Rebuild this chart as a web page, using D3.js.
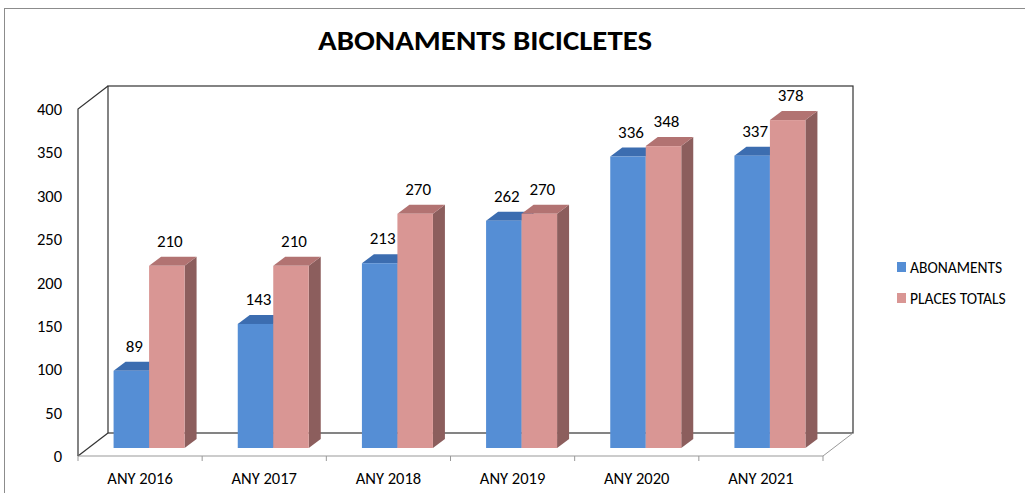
<!DOCTYPE html>
<html>
<head>
<meta charset="utf-8">
<script src="https://cdn.jsdelivr.net/npm/d3@7"></script>
<style>
  body { margin: 0; background: #fff; }
  svg { display: block; }
</style>
</head>
<body>
<svg width="1025" height="493"></svg>
<script>
var svg = d3.select("svg");

// data
var years = ["ANY 2016", "ANY 2017", "ANY 2018", "ANY 2019", "ANY 2020", "ANY 2021"];
var abonaments = [89, 143, 213, 262, 336, 337];
var places = [210, 210, 270, 270, 348, 378];
var seriesNames = ["ABONAMENTS", "PLACES TOTALS"];
var yTicks = [0, 50, 100, 150, 200, 250, 300, 350, 400];

// colours: front, top, side
var blue = { front: "#558ed5", top: "#3c6db0", side: "#2f5a94" };
var pink = { front: "#d99694", top: "#b27372", side: "#8c5e5d" };
var font = "Carlito, Lato, sans-serif";

// 3d depth of the walls
var wallDx = 30, wallDy = -23;
// bars sit a bit into the box
var barDx = 9, barDy = -8;
var depthDx = 12, depthDy = -9;

var x = d3.scaleBand().domain(years).range([78, 823]);
var y = d3.scaleLinear().domain([0, 400]).range([456, 109]);
var sub = d3.scaleBand().domain([0, 1]).range([-35.5, 35.5]);

// outer frame
svg.append("rect")
    .attr("x", 4.5).attr("y", 8.5)
    .attr("width", 1030).attr("height", 500)
    .attr("fill", "none").attr("stroke", "#8c8c8c");

// title
svg.append("text")
    .attr("x", 485).attr("y", 50)
    .attr("text-anchor", "middle")
    .attr("font-family", font)
    .attr("font-weight", "bold")
    .attr("font-size", 28)
    .attr("textLength", 334)
    .attr("lengthAdjust", "spacingAndGlyphs")
    .text("ABONAMENTS BICICLETES");

var x0 = x.range()[0], x1 = x.range()[1];
var yTop = y(400), yBot = y(0);
var box = svg.append("g")
    .attr("fill", "none")
    .attr("stroke", "#333")
    .attr("stroke-width", 1.2);

// back wall
box.append("rect")
    .attr("x", x0 + wallDx).attr("y", yTop + wallDy)
    .attr("width", x1 - x0).attr("height", yBot - yTop);
// left wall
box.append("path")
    .attr("d", "M" + x0 + "," + yBot + "L" + x0 + "," + yTop + "L" + (x0 + wallDx) + "," + (yTop + wallDy));
box.append("path")
    .attr("d", "M" + x0 + "," + yBot + "L" + (x0 + wallDx) + "," + (yBot + wallDy));
// floor
var floor = svg.append("g").attr("fill", "none").attr("stroke", "#999");
floor.append("path")
    .attr("d", "M" + x0 + "," + yBot + "L" + x1 + "," + yBot + "L" + (x1 + wallDx) + "," + (yBot + wallDy));

// ticks under floor
floor.selectAll("line.tick")
    .data(years.concat(["end"]))
    .enter().append("line")
    .attr("x1", function (d, i) { return x0 + i * x.bandwidth(); })
    .attr("x2", function (d, i) { return x0 + i * x.bandwidth(); })
    .attr("y1", yBot).attr("y2", yBot + 5);

// y labels
svg.selectAll("text.ylab")
    .data(yTicks)
    .enter().append("text")
    .attr("class", "ylab")
    .attr("x", 62)
    .attr("y", function (d) { return y(d) + 6; })
    .attr("text-anchor", "end")
    .attr("font-family", font)
    .attr("font-size", 16.5)
    .text(function (d) { return d; });

// x labels
svg.selectAll("text.xlab")
    .data(years)
    .enter().append("text")
    .attr("class", "xlab")
    .attr("x", function (d) { return x(d) + x.bandwidth() / 2; })
    .attr("y", 484)
    .attr("text-anchor", "middle")
    .attr("font-family", font)
    .attr("font-size", 16.5)
    .text(function (d) { return d; });

// bars
var bars = [];
years.forEach(function (yr, i) {
    bars.push({ year: yr, s: 0, v: abonaments[i], c: blue });
    bars.push({ year: yr, s: 1, v: places[i], c: pink });
});

var g = svg.selectAll("g.bar")
    .data(bars)
    .enter().append("g")
    .attr("class", "bar");

function barLeft(d) { return x(d.year) + x.bandwidth() / 2 + sub(d.s) + barDx; }
function barRight(d) { return barLeft(d) + sub.bandwidth(); }
function barTop(d) { return y(d.v) + barDy; }
function barBot(d) { return y(0) + barDy; }

g.append("path")
    .attr("fill", function (d) { return d.c.side; })
    .attr("d", function (d) {
        return "M" + barRight(d) + "," + barBot(d) + "L" + barRight(d) + "," + barTop(d) +
            "L" + (barRight(d) + depthDx) + "," + (barTop(d) + depthDy) +
            "L" + (barRight(d) + depthDx) + "," + (barBot(d) + depthDy) + "Z";
    });
g.append("path")
    .attr("fill", function (d) { return d.c.top; })
    .attr("d", function (d) {
        return "M" + barLeft(d) + "," + barTop(d) + "L" + barRight(d) + "," + barTop(d) +
            "L" + (barRight(d) + depthDx) + "," + (barTop(d) + depthDy) +
            "L" + (barLeft(d) + depthDx) + "," + (barTop(d) + depthDy) + "Z";
    });
g.append("rect")
    .attr("fill", function (d) { return d.c.front; })
    .attr("x", barLeft)
    .attr("y", barTop)
    .attr("width", sub.bandwidth())
    .attr("height", function (d) { return barBot(d) - barTop(d); });

// value labels
g.append("text")
    .attr("x", function (d) { return barLeft(d) + sub.bandwidth() / 2 + 3; })
    .attr("y", function (d) { return barTop(d) - 19; })
    .attr("text-anchor", "middle")
    .attr("font-family", font)
    .attr("font-size", 17)
    .text(function (d) { return d.v; });

// legend
var legend = svg.selectAll("g.legend")
    .data(seriesNames)
    .enter().append("g")
    .attr("class", "legend")
    .attr("transform", function (d, i) { return "translate(897," + (262 + i * 31) + ")"; });
legend.append("rect")
    .attr("width", 9).attr("height", 10)
    .attr("fill", function (d, i) { return i === 0 ? blue.front : pink.front; });
legend.append("text")
    .attr("x", 13).attr("y", 11)
    .attr("font-family", font)
    .attr("font-size", 15.5)
    .text(function (d) { return d; });
</script>
</body>
</html>
